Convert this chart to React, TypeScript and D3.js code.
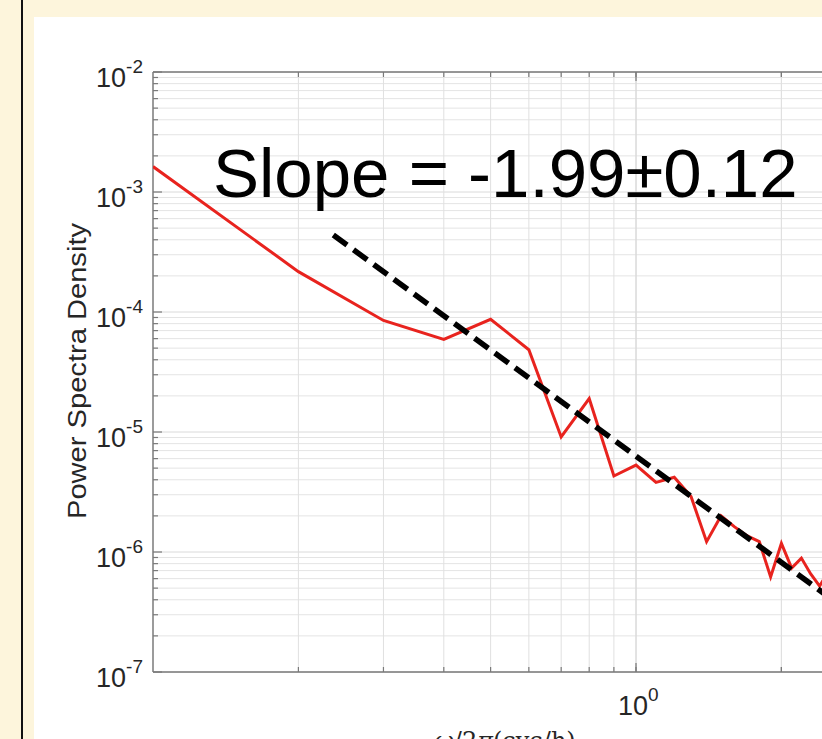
import React from "react";
import * as d3 from "d3";

const freq = [0.1, 0.2, 0.3, 0.4, 0.5, 0.6, 0.7, 0.8, 0.9, 1.0, 1.1, 1.2, 1.3, 1.4, 1.5, 1.6, 1.7, 1.8, 1.9, 2.0, 2.1, 2.2, 2.3, 2.4, 2.5];
const psd = [1.63e-3, 2.17e-4, 8.5e-5, 5.9e-5, 8.7e-5, 4.85e-5, 9.1e-6, 1.9e-5, 4.3e-6, 5.3e-6, 3.8e-6, 4.2e-6, 2.9e-6, 1.22e-6, 2.0e-6, 1.62e-6, 1.36e-6, 1.22e-6, 6.2e-7, 1.18e-6, 7.36e-7, 8.9e-7, 6.56e-7, 5.2e-7, 6.8e-7];
const fitX = [0.2362, 2.6];
const fitY = [4.38e-4, 3.79e-7];
const yTickExps = [-2, -3, -4, -5, -6, -7];
const xTickExps = [0];
const annotation = "Slope = -1.99\u00b10.12";
const yTitle = "Power Spectra Density";

const W = 822;
const H = 739;
const left = 153;
const top = 72;
const bottom = 672;
const decadeX = 483;

export default function App() {
  const x = d3.scaleLog().domain([0.1, 4]).range([left, left + decadeX * Math.log10(40)]);
  const y = d3.scaleLog().domain([1e-7, 1e-2]).range([bottom, top]);
  const right = x(4);

  const yMinor: number[] = [];
  for (let e = -7; e < -2; e++) for (let m = 2; m <= 9; m++) yMinor.push(m * Math.pow(10, e));
  const xMinor: number[] = [];
  for (let e = -1; e < 1; e++) for (let m = 1; m <= 9; m++) {
    const v = m * Math.pow(10, e);
    if (v > 0.1 && v < 4) xMinor.push(v);
  }
  xMinor.push(2, 3);
  const xMajor = [1];
  const yMajor = yTickExps.map((e) => Math.pow(10, e));

  const line = d3.line<number>().x((_, i) => x(freq[i])).y((d) => y(d));
  const fitLine = d3.line<number>().x((_, i) => x(fitX[i])).y((d) => y(d));

  const font = "'Liberation Sans', Arial, Helvetica, sans-serif";
  const axisColor = "#7a7a7a";

  return (
    <svg width={W} height={H} style={{ position: "absolute", left: 0, top: 0 }} fontFamily={font}>
      <rect x={0} y={0} width={W} height={H} fill="#fdf5dc" />
      <line x1={22} y1={0} x2={22} y2={H} stroke="#111" strokeWidth={2} />
      <rect x={34} y={17} width={W} height={H} fill="#ffffff" />
      <defs>
        <clipPath id="plotclip">
          <rect x={left} y={top} width={right - left} height={bottom - top} />
        </clipPath>
      </defs>
      {/* grid */}
      <g>
        {yMinor.map((v, i) => (
          <line key={"ym" + i} x1={left} x2={right} y1={y(v)} y2={y(v)} stroke="#e4e4e4" strokeWidth={1} />
        ))}
        {yMajor.map((v, i) => (
          <line key={"yM" + i} x1={left} x2={right} y1={y(v)} y2={y(v)} stroke="#dadada" strokeWidth={1} />
        ))}
        {xMinor.map((v, i) => (
          <line key={"xm" + i} x1={x(v)} x2={x(v)} y1={top} y2={bottom} stroke="#e0e0e0" strokeWidth={1} />
        ))}
        {xMajor.map((v, i) => (
          <line key={"xM" + i} x1={x(v)} x2={x(v)} y1={top} y2={bottom} stroke="#d6d6d6" strokeWidth={1} />
        ))}
      </g>
      {/* axes box */}
      <line x1={left} x2={right} y1={top} y2={top} stroke={axisColor} strokeWidth={1.5} />
      <line x1={left} x2={right} y1={bottom} y2={bottom} stroke={axisColor} strokeWidth={1.5} />
      <line x1={left} x2={left} y1={top} y2={bottom} stroke={axisColor} strokeWidth={1.5} />
      {/* ticks */}
      {yMinor.map((v, i) => (
        <line key={"ytm" + i} x1={left} x2={left + 5} y1={y(v)} y2={y(v)} stroke={axisColor} strokeWidth={1.2} />
      ))}
      {yMajor.map((v, i) => (
        <line key={"ytM" + i} x1={left} x2={left + 9} y1={y(v)} y2={y(v)} stroke={axisColor} strokeWidth={1.2} />
      ))}
      {xMinor.map((v, i) => (
        <g key={"xtm" + i}>
          <line x1={x(v)} x2={x(v)} y1={bottom} y2={bottom - 5} stroke={axisColor} strokeWidth={1.2} />
          <line x1={x(v)} x2={x(v)} y1={top} y2={top + 5} stroke={axisColor} strokeWidth={1.2} />
        </g>
      ))}
      {xMajor.map((v, i) => (
        <g key={"xtM" + i}>
          <line x1={x(v)} x2={x(v)} y1={bottom} y2={bottom - 9} stroke={axisColor} strokeWidth={1.2} />
          <line x1={x(v)} x2={x(v)} y1={top} y2={top + 9} stroke={axisColor} strokeWidth={1.2} />
        </g>
      ))}
      {/* y tick labels */}
      {yTickExps.map((e) => {
        const yy = y(Math.pow(10, e));
        return (
          <text key={"yl" + e} x={left - 10} y={yy + 15} textAnchor="end" fontSize={27} fill="#262626">
            <tspan>10</tspan>
            <tspan fontSize={19} dy={-14}>{String(e)}</tspan>
          </text>
        );
      })}
      {/* x tick labels */}
      {xTickExps.map((e) => {
        const xx = x(Math.pow(10, e));
        return (
          <text key={"xl" + e} x={xx - 18} y={bottom + 43} fontSize={27} fill="#262626">
            <tspan>10</tspan>
            <tspan fontSize={19} dy={-14}>{String(e)}</tspan>
          </text>
        );
      })}
      {/* axis titles */}
      <text transform={`translate(86, ${(top + bottom) / 2 - 1}) rotate(-90) scale(1.12, 1)`} textAnchor="middle" fontSize={26} fill="#262626">
        {yTitle}
      </text>
      <text x={505} y={749} textAnchor="middle" fontSize={24} fill="#262626" fontFamily="'DejaVu Serif', 'Liberation Serif', serif">
        <tspan fontStyle="italic">ω</tspan>
        <tspan>/2</tspan>
        <tspan fontStyle="italic">π</tspan>
        <tspan>(cyc/h)</tspan>
      </text>
      {/* data */}
      <g clipPath="url(#plotclip)">
        <path d={line(psd) || ""} fill="none" stroke="#e8231e" strokeWidth={3} strokeLinejoin="miter" />
        <path d={fitLine(fitY) || ""} fill="none" stroke="#000" strokeWidth={5.5} strokeDasharray="17 8" />
      </g>
      <text x={213} y={197} fontSize={69} fill="#000">{annotation}</text>
    </svg>
  );
}
